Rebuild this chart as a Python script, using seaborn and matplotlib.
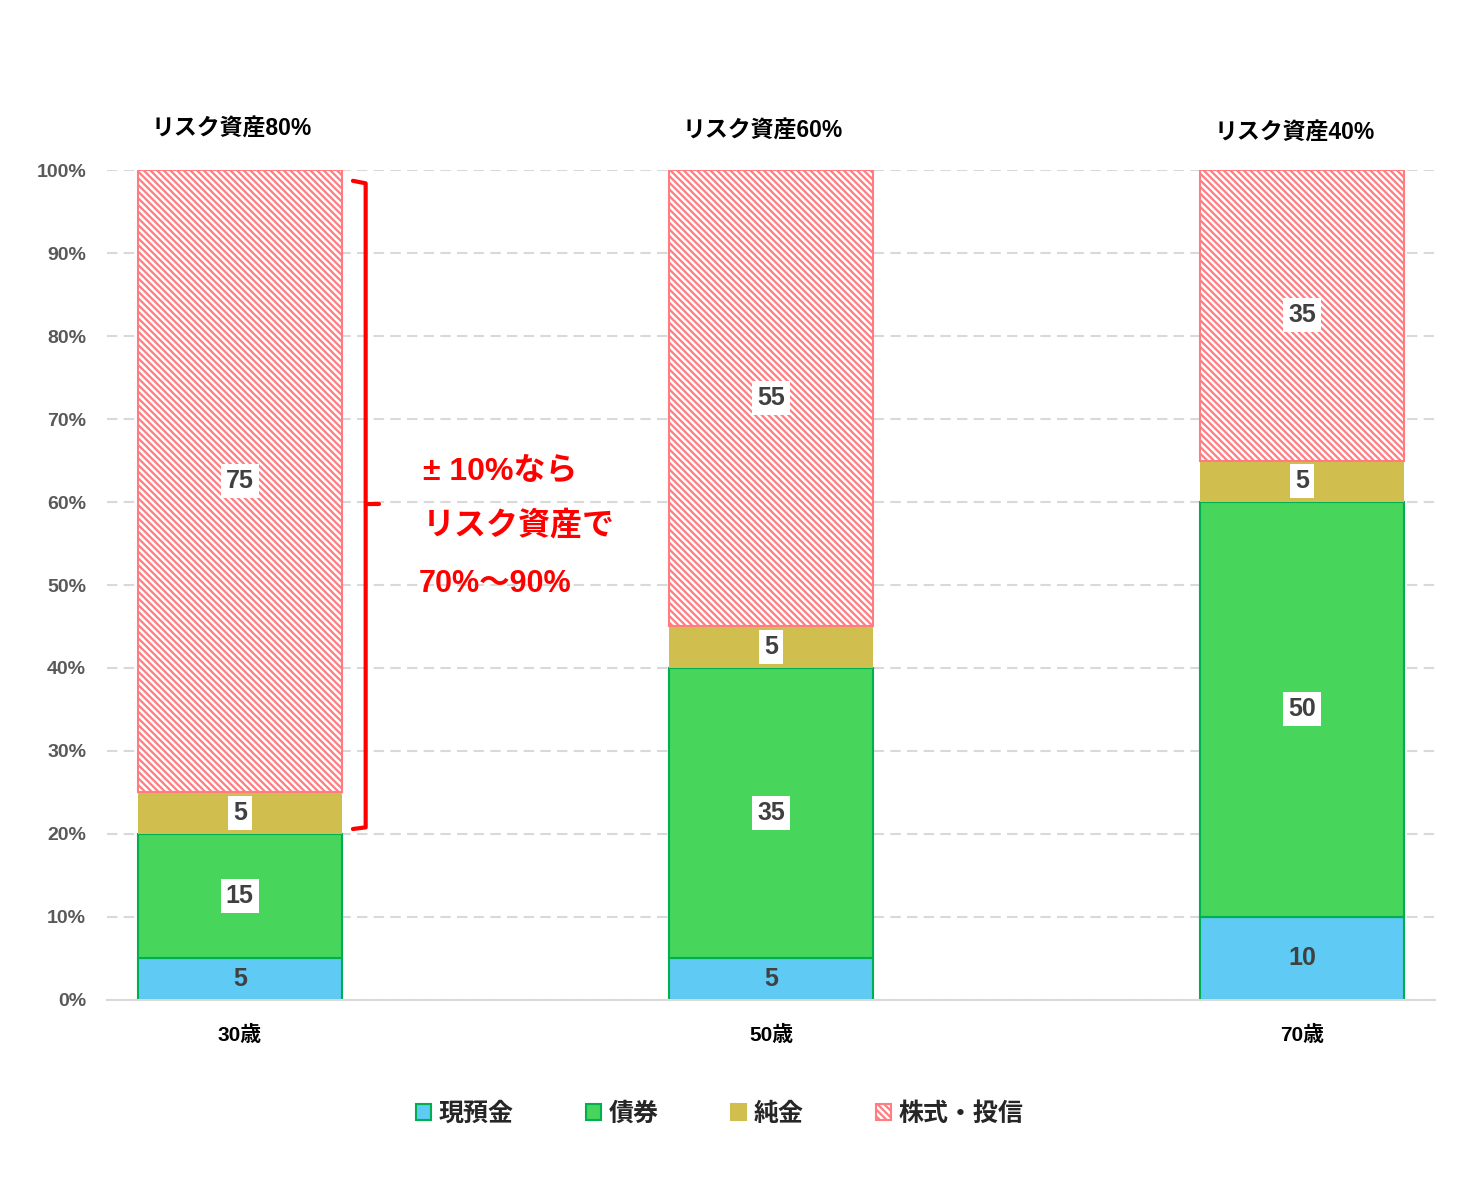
import matplotlib
matplotlib.use("Agg")
import matplotlib.pyplot as plt
from matplotlib.patches import Patch
import numpy as np
import pandas as pd
import seaborn as sns

# data
ages = ["30歳", "50歳", "70歳"]
titles = ["リスク資産80%", "リスク資産60%", "リスク資産40%"]
assets = ["現預金", "債券", "純金", "株式・投信"]
cash = [5, 5, 10]
bonds = [15, 35, 50]
gold = [5, 5, 5]
stocks = [75, 55, 35]
yticks = [0, 10, 20, 30, 40, 50, 60, 70, 80, 90, 100]
note_lines = ["± 10%なら", "リスク資産で", "70%〜90%"]

colors = {"現預金": "#5FCAF3", "債券": "#47D55B", "純金": "#D0BF4E", "株式・投信": "white"}
edges = {"現預金": "#00B050", "債券": "#00B050", "純金": "#D0BF4E", "株式・投信": "#FF7C80"}
HATCH = "\\" * 5

sns.set_theme(style="white")
plt.rcParams["font.family"] = ["Liberation Sans", "Noto Sans CJK JP", "DejaVu Sans"]
plt.rcParams["hatch.linewidth"] = 1.6
plt.rcParams["hatch.color"] = "#FF7C80"

fig = plt.figure(figsize=(14.69, 11.94), dpi=100)
ax = fig.add_axes([0.0728, 0.1625, 0.9041, 0.6951])

df = pd.DataFrame({"age": ages, "現預金": cash, "債券": bonds, "純金": gold, "株式・投信": stocks})
bottom = np.zeros(len(ages))
for a in assets:
    sns.barplot(data=df, x="age", y=a, order=ages, ax=ax, width=0.384,
                color=colors[a], edgecolor=edges[a], linewidth=1.5 if a != "純金" else 0,
                hatch=HATCH if a == "株式・投信" else None,
                bottom=bottom, saturation=1, zorder=2)
    for i, v in enumerate(df[a]):
        y = bottom[i] + v / 2
        box = None if a == "現預金" else dict(boxstyle="square,pad=0.2", fc="white", ec="none")
        ax.text(i, y, str(v), ha="center", va="center", fontsize=18, fontweight="bold",
                color="#404040", bbox=box, zorder=5)
    bottom = bottom + df[a].to_numpy()

ax.set_xlim(-0.25, 2.25)
ax.set_ylim(0, 100)
ax.set_yticks(yticks)
ax.set_yticklabels([f"{t}%" for t in yticks], fontsize=14, fontweight="bold", color="#595959")
ax.set_xticks(range(len(ages)))
ax.set_xticklabels(ages, fontsize=15, fontweight="bold", color="black")
ax.tick_params(axis="x", length=0, pad=18)
ax.tick_params(axis="y", length=0, pad=15)
ax.set_xlabel("")
ax.set_ylabel("")
ax.yaxis.grid(True, color="#D9D9D9", linestyle=(0, (5, 3)), linewidth=1.5, zorder=0)
ax.set_axisbelow(True)
for s in ["top", "right", "left"]:
    ax.spines[s].set_visible(False)
ax.spines["bottom"].set_color("#D9D9D9")
ax.spines["bottom"].set_linewidth(1.5)

# titles above the bars
for i, t in enumerate(titles):
    ax.text(i - 0.015, 104.9 - i * 0.25, t, ha="center", va="center", fontsize=16.5,
            fontweight="bold", color="black", clip_on=False)

# red bracket and note
bx0, bx1, bx2 = 0.213, 0.237, 0.262
ax.plot([bx0, bx1, bx1, bx0], [98.7, 98.4, 20.8, 20.6], color="red", lw=3,
        solid_joinstyle="round", clip_on=False, zorder=4)
ax.plot([bx1, bx2], [59.7, 59.7], color="red", lw=3, zorder=4)
ax.text(0.345, 63.7, note_lines[0], fontsize=23, fontweight="bold", color="red", va="center")
ax.text(0.345, 57.1, note_lines[1], fontsize=23, fontweight="bold", color="red", va="center")
ax.text(0.337, 50.1, note_lines[2], fontsize=22, fontweight="bold", color="red", va="center")

handles = [Patch(facecolor=colors[a], edgecolor=edges[a], linewidth=1.5,
                 hatch=HATCH if a == "株式・投信" else None) for a in assets]
fig.legend(handles, assets, loc="center", bbox_to_anchor=(0.49, 0.067), ncol=4,
           frameon=False, prop={"size": 18, "weight": "bold"}, handlelength=0.6,
           handleheight=0.6, handletextpad=0.3, columnspacing=2.9)

fig.savefig("out.png", dpi=100)
